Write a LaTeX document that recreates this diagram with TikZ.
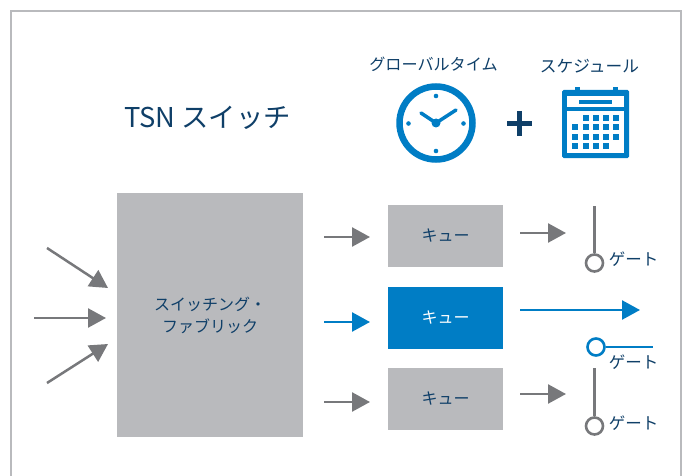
\documentclass[tikz,border=0pt]{standalone}
\usepackage{fontspec}
\setmainfont{Noto Sans CJK JP}
\usetikzlibrary{arrows.meta}
\definecolor{tsnblue}{HTML}{007DC5}
\definecolor{tsngray}{HTML}{77787B}
\definecolor{tsnbox}{HTML}{B9BABD}
\definecolor{tsnnavy}{HTML}{0F3F68}
\tikzset{
	graybox/.style={fill=tsnbox,text=tsnnavy,inner sep=0pt,font=\fontsize{16}{22}\selectfont,align=center},
	bluebox/.style={fill=tsnblue,text=white,inner sep=0pt,font=\fontsize{16}{22}\selectfont,align=center},
	label/.style={text=tsnnavy,inner sep=0pt,font=\fontsize{16.5}{20}\selectfont},
	grayarrow/.style={draw=tsngray,line width=2.5pt,-{Triangle[length=18pt,width=19pt]}},
	bluearrow/.style={draw=tsnblue,line width=2.5pt,-{Triangle[length=18pt,width=19pt]}},
	graygate/.style={circle,draw=tsngray,fill=white,line width=2.6pt,minimum size=17pt,inner sep=0pt},
	bluegate/.style={circle,draw=tsnblue,fill=white,line width=2.6pt,minimum size=17pt,inner sep=0pt}
}
\begin{document}
\begin{tikzpicture}[x=1pt,y=-1pt]

	\useasboundingbox (0,0) rectangle (685,476);
	\draw[color=tsnbox,line width=1.5pt] (11,476) -- (11,11) -- (681,11) -- (681,476);

	\node[label,font=\fontsize{27.3}{30}\selectfont] (title) at (207.5,117.5) {TSN スイッチ};
	\node[label,font=\fontsize{16.1}{20}\selectfont] (time) at (433.5,64) {グローバルタイム};
	\node[label,font=\fontsize{16.7}{20}\selectfont] (schedule) at (589.5,66) {スケジュール};

	\draw[color=tsnblue,line width=6.5pt] (436,123) circle (36.5);
	\fill[color=tsnblue] (436,123) circle (4.5);
	\fill[color=tsnblue] (436,96) circle (2.3);
	\fill[color=tsnblue] (436,151) circle (2.3);
	\fill[color=tsnblue] (408.5,123.5) circle (2.3);
	\fill[color=tsnblue] (463.5,123.5) circle (2.3);
	\draw[color=tsnblue,line width=3.5pt,line cap=round] (421,113) -- (436,123) -- (456,110);

	\draw[color=tsnnavy,line width=5.5pt] (507,123.5) -- (532,123.5);
	\draw[color=tsnnavy,line width=5.5pt] (519.5,111) -- (519.5,136);

	\fill[color=tsnblue,rounded corners=1.5pt] (562,90) rectangle (629,158);
	\fill[color=tsnblue] (574.5,87) rectangle (579.5,92);
	\fill[color=tsnblue] (612.5,87) rectangle (617.5,92);
	\fill[color=white] (567,96) rectangle (624,107);
	\fill[color=white] (567,111) rectangle (624,153);
	\fill[color=tsnblue] (579,100) rectangle (612,104);
	\foreach \x in {586,596,606,616} {
		\fill[color=tsnblue] (\x-3,115) rectangle (\x+3,121);
	}
	\foreach \x in {575,586,596,606,616} {
		\fill[color=tsnblue] (\x-3,124) rectangle (\x+3,130);
		\fill[color=tsnblue] (\x-3,134) rectangle (\x+3,140);
	}
	\foreach \x in {575,586,596,606} {
		\fill[color=tsnblue] (\x-3,143) rectangle (\x+3,149);
	}

	\node[graybox,minimum width=186pt,minimum height=244pt,font=\fontsize{16}{22}\selectfont] (fabric) at (210,315) {\raisebox{-1.5pt}{スイッチング・}\\\raisebox{-1.5pt}{ファブリック}};
	\node[graybox,minimum width=115pt,minimum height=62pt] (queuea) at (445.5,236) {\raisebox{1.5pt}{キュー}};
	\node[bluebox,minimum width=115pt,minimum height=62pt] (queueb) at (445.5,318) {\raisebox{1.5pt}{キュー}};
	\node[graybox,minimum width=115pt,minimum height=62pt] (queuec) at (445.5,399) {\raisebox{1.5pt}{キュー}};

	\coordinate (ina) at (47,248);
	\coordinate (inatip) at (108,288);
	\coordinate (inb) at (34,318);
	\coordinate (inbtip) at (106,318);
	\coordinate (inc) at (47,383);
	\coordinate (inctip) at (108,344);
	\draw[grayarrow] (ina) -- (inatip);
	\draw[grayarrow] (inb) -- (inbtip);
	\draw[grayarrow] (inc) -- (inctip);

	\coordinate (fa) at (324,237);
	\coordinate (fatip) at (370,237);
	\coordinate (fb) at (324,322);
	\coordinate (fbtip) at (370,322);
	\coordinate (fc) at (324,402);
	\coordinate (fctip) at (370,402);
	\draw[grayarrow] (fa) -- (fatip);
	\draw[bluearrow] (fb) -- (fbtip);
	\draw[grayarrow] (fc) -- (fctip);

	\coordinate (qa) at (520,233);
	\coordinate (qatip) at (566,233);
	\coordinate (qb) at (520,310);
	\coordinate (qbtip) at (640,310);
	\coordinate (qc) at (520,394);
	\coordinate (qctip) at (566,394);
	\draw[grayarrow] (qa) -- (qatip);
	\draw[bluearrow] (qb) -- (qbtip);
	\draw[grayarrow] (qc) -- (qctip);

	\node[graygate] (gatea) at (594.5,263) {};
	\node[bluegate] (gateb) at (596,347) {};
	\node[graygate] (gatec) at (594.5,426) {};
	\coordinate (armatop) at (594.5,206);
	\coordinate (armbend) at (653,347);
	\coordinate (armctop) at (594.5,368);
	\draw[color=tsngray,line width=2.5pt] (gatea) -- (armatop);
	\draw[color=tsnblue,line width=2.5pt] (gateb) -- (armbend);
	\draw[color=tsngray,line width=2.5pt] (gatec) -- (armctop);

	\node[label] (labela) at (633.5,259) {ゲート};
	\node[label] (labelb) at (633.5,362) {ゲート};
	\node[label] (labelc) at (633.5,423) {ゲート};

\end{tikzpicture}
\end{document}
